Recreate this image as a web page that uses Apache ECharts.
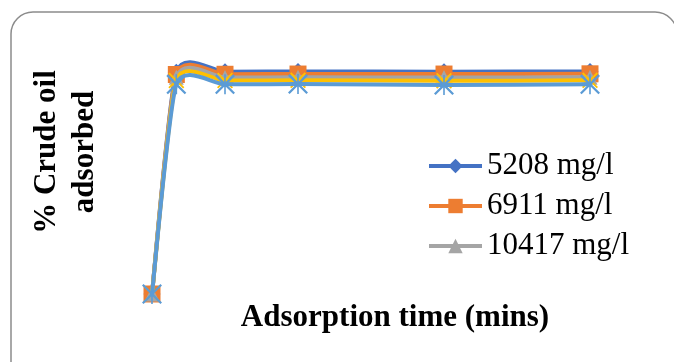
<!DOCTYPE html>
<html>
<head>
<meta charset="utf-8">
<script src="https://cdn.jsdelivr.net/npm/echarts@6/dist/echarts.min.js"></script>
<style>html,body{margin:0;padding:0;background:#fff}#c{width:674px;height:362px}</style>
</head>
<body>
<div id="c"></div>
<script>
var times = [0, 10, 30, 60, 120, 180];
var seriesNames = ['5208 mg/l', '6911 mg/l', '10417 mg/l', '13890 mg/l', '17362 mg/l'];
var s5208 = [0, 94.8, 95.0, 95.1, 95.0, 95.1];
var s6911 = [0, 93.8, 93.9, 94.0, 94.0, 94.1];
var s10417 = [0, 92.6, 92.5, 92.6, 92.5, 92.6];
var s4 = [0, 91.2, 91.2, 91.3, 91.1, 91.3];
var s5 = [0, 89.6, 89.6, 89.7, 89.3, 89.6];
var legendNames = ['5208 mg/l', '6911 mg/l', '10417 mg/l'];

var FONT = "'Liberation Serif','Times New Roman',serif";
var X_PATH = 'path://M0 8 L8 0 L100 92 L92 100 Z M92 0 L100 8 L8 100 L0 92 Z';
var STAR_PATH = 'path://M0 8 L8 0 L100 92 L92 100 Z M92 0 L100 8 L8 100 L0 92 Z M46 0 L54 0 L54 100 L46 100 Z';

function pairs(arr) { return times.map(function (t, i) { return [t, arr[i]]; }); }

var colors = ['#4472C4', '#ED7D31', '#A5A5A5', '#FFC000', '#5B9BD5'];
var symbols = ['diamond', 'rect', 'triangle', X_PATH, STAR_PATH];
var sizes = [17, 17, 15, 16, 20];
var datas = [s5208, s6911, s10417, s4, s5];
var TENSION = 0.1;

function smoothRenderer(values, color) {
  return function (params, api) {
    if (params.dataIndex !== 0) return null;
    var P = times.map(function (t, i) { return api.coord([t, values[i]]); });
    var n = P.length;
    var T = P.map(function (p, i) {
      var a = P[Math.max(0, i - 1)], b = P[Math.min(n - 1, i + 1)];
      return [(b[0] - a[0]) * TENSION, (b[1] - a[1]) * TENSION];
    });
    var children = [];
    for (var i = 0; i < n - 1; i++) {
      children.push({
        type: 'bezierCurve',
        shape: {
          x1: P[i][0], y1: P[i][1],
          cpx1: P[i][0] + T[i][0], cpy1: P[i][1] + T[i][1],
          cpx2: P[i + 1][0] - T[i + 1][0], cpy2: P[i + 1][1] - T[i + 1][1],
          x2: P[i + 1][0], y2: P[i + 1][1]
        },
        style: { stroke: color, lineWidth: 4, fill: null, lineCap: 'round', lineJoin: 'round' }
      });
    }
    return { type: 'group', children: children };
  };
}

var series = [];
datas.forEach(function (d, i) {
  series.push({
    name: seriesNames[i] + ' curve',
    type: 'custom',
    coordinateSystem: 'cartesian2d',
    data: pairs(d),
    renderItem: smoothRenderer(d, colors[i]),
    z: 2 * i + 1,
    silent: true,
    animation: false
  });
  series.push({
    name: seriesNames[i],
    type: 'line',
    data: pairs(d),
    symbol: symbols[i],
    symbolSize: sizes[i],
    showAllSymbol: true,
    lineStyle: { color: colors[i], width: 4, opacity: 0 },
    itemStyle: { color: colors[i], borderWidth: 0 },
    emphasis: { disabled: true },
    z: 2 * i + 2,
    animation: false
  });
});

var chart = echarts.init(document.getElementById('c'));
chart.setOption({
  backgroundColor: '#fff',
  animation: false,
  grid: { left: 152, right: 84, top: 60, bottom: 68 },
  xAxis: { type: 'value', min: 0, max: 180, show: false },
  yAxis: { type: 'value', min: 0, max: 100, show: false },
  legend: {
    data: legendNames.map(function (n, i) {
      return { name: n, lineStyle: { color: colors[i], width: 4, opacity: 1 } };
    }),
    orient: 'vertical',
    left: 427,
    top: 146,
    padding: 0,
    itemWidth: 53,
    itemHeight: 18,
    itemGap: 0,
    lineStyle: { width: 4, opacity: 1 },
    textStyle: { fontFamily: FONT, fontSize: 31, color: '#000', lineHeight: 40 }
  },
  graphic: [
    { type: 'rect', shape: { x: 11, y: 12, width: 666, height: 380, r: 22 },
      style: { fill: 'none', stroke: '#8c8c8c', lineWidth: 1.5 }, silent: true, z: -1 },
    { type: 'text', x: 66, y: 152, rotation: Math.PI / 2,
      style: { text: '% Crude oil\nadsorbed', font: 'bold 31px ' + FONT, fill: '#000',
        align: 'center', verticalAlign: 'middle', lineHeight: 38 } },
    { type: 'text', x: 395, y: 318,
      style: { text: 'Adsorption time (mins)', font: 'bold 31px ' + FONT, fill: '#000',
        align: 'center', verticalAlign: 'middle' } }
  ],
  series: series
});
</script>
</body>
</html>
